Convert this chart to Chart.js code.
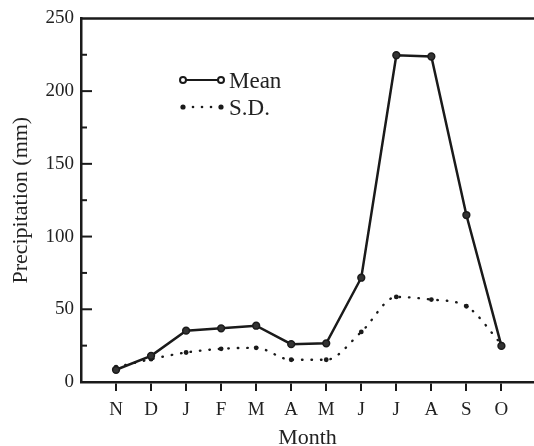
<!DOCTYPE html>
<html>
<head>
<meta charset="utf-8">
<script src="https://cdn.jsdelivr.net/npm/chart.js@4.4.1/dist/chart.umd.min.js"></script>
<style>
html,body{margin:0;padding:0;background:#fff;overflow:hidden;}
#wrap{position:relative;width:534px;height:446px;}
</style>
</head>
<body>
<div id="wrap"><canvas id="c" width="534" height="446"></canvas></div>
<script>
const months = ['N','D','J','F','M','A','M','J','J','A','S','O'];
const meanVals = [8.4, 18.0, 35.3, 36.9, 38.7, 26.0, 26.6, 71.7, 224.7, 223.8, 114.8, 24.8];
const sdVals   = [10.2, 15.7, 20.3, 22.8, 23.5, 15.3, 15.3, 34.4, 58.5, 56.7, 52.1, 26.0];
const yTickVals = [0, 50, 100, 150, 200, 250];
const seriesNames = ['Mean', 'S.D.'];

const INK = '#1a1a1a';
const FONT = '"Liberation Serif", "Times New Roman", serif';

const axisDecor = {
  id: 'axisDecor',
  afterDraw(chart) {
    const ctx = chart.ctx, a = chart.chartArea, ys = chart.scales.y;
    ctx.save();
    ctx.strokeStyle = INK;
    ctx.lineWidth = 2.5;
    // top frame line
    ctx.beginPath();
    ctx.moveTo(a.left - 1, a.top);
    ctx.lineTo(a.right + 2, a.top);
    ctx.stroke();
    // inward y ticks
    ctx.lineWidth = 2;
    for (let v = 25; v < 250; v += 25) {
      const y = ys.getPixelForValue(v);
      const len = (v % 50 === 0) ? 11 : 6;
      ctx.beginPath();
      ctx.moveTo(a.left, y);
      ctx.lineTo(a.left + len, y);
      ctx.stroke();
    }
    // legend
    const lx0 = 183, lx1 = 221, tx = 229;
    const y1 = 80, y2 = 107;
    ctx.lineWidth = 2.2;
    ctx.beginPath(); ctx.moveTo(lx0, y1); ctx.lineTo(lx1, y1); ctx.stroke();
    [lx0, lx1].forEach(x => {
      ctx.beginPath(); ctx.arc(x, y1, 3, 0, Math.PI * 2);
      ctx.fillStyle = '#fff'; ctx.fill(); ctx.lineWidth = 2; ctx.stroke();
    });
    ctx.fillStyle = INK;
    [lx0, 193, 202, 211, lx1].forEach((x, i) => {
      const r = (i === 0 || i === 4) ? 2.6 : 1.3;
      ctx.beginPath(); ctx.arc(x, y2, r, 0, Math.PI * 2); ctx.fill();
    });
    ctx.font = '23px ' + FONT;
    ctx.textBaseline = 'alphabetic';
    ctx.textAlign = 'left';
    ctx.fillStyle = '#222';
    ctx.fillText(seriesNames[0], tx, y1 + 8);
    ctx.fillText(seriesNames[1], tx, y2 + 8);
    ctx.restore();
  }
};

new Chart(document.getElementById('c'), {
  type: 'line',
  data: {
    datasets: [
      {
        label: seriesNames[0],
        data: meanVals.map((v, i) => ({x: i, y: v})),
        borderColor: INK,
        borderWidth: 2.5,
        pointRadius: 3.4,
        pointBorderWidth: 1.5,
        pointBackgroundColor: '#333',
        pointBorderColor: INK,
        tension: 0
      },
      {
        label: seriesNames[1],
        data: sdVals.map((v, i) => ({x: i, y: v})),
        borderColor: INK,
        borderWidth: 2.4,
        borderDash: [0.5, 9],
        borderCapStyle: 'round',
        pointRadius: 2.4,
        pointBorderWidth: 0,
        pointBackgroundColor: INK,
        cubicInterpolationMode: 'monotone'
      }
    ]
  },
  options: {
    responsive: false,
    animation: false,
    devicePixelRatio: 1,
    layout: {autoPadding: false, padding: {top: 16, right: 0, left: 0, bottom: 0}},
    plugins: {legend: {display: false}, tooltip: {enabled: false}},
    scales: {
      x: {
        type: 'linear',
        min: -1,
        max: 11.93,
        afterBuildTicks: s => { s.ticks = months.map((_, i) => ({value: i})); },
        afterFit: s => { s.height = 64; },
        ticks: {
          autoSkip: false, maxRotation: 0,
          callback: v => months[v],
          font: {family: FONT, size: 19},
          color: '#222',
          padding: 8
        },
        grid: {display: true, drawOnChartArea: false, drawTicks: true, tickLength: 9, lineWidth: 2, color: INK},
        border: {display: true, width: 2.5, color: INK},
        title: {display: true, text: 'Month', font: {family: FONT, size: 22, lineHeight: 0.7}, color: '#222', padding: {top: 0, bottom: 0}}
      },
      y: {
        min: 0,
        max: 250,
        afterBuildTicks: s => { s.ticks = yTickVals.map(v => ({value: v})); },
        afterFit: s => { s.width = 81; },
        ticks: {font: {family: FONT, size: 19}, color: '#222', padding: 7},
        grid: {display: true, drawOnChartArea: false, drawTicks: false},
        border: {display: true, width: 2.5, color: INK},
        title: {display: true, text: 'Precipitation (mm)', font: {family: FONT, size: 22}, color: '#222', padding: {top: 8, bottom: 0}}
      }
    }
  },
  plugins: [axisDecor]
});
</script>
</body>
</html>
